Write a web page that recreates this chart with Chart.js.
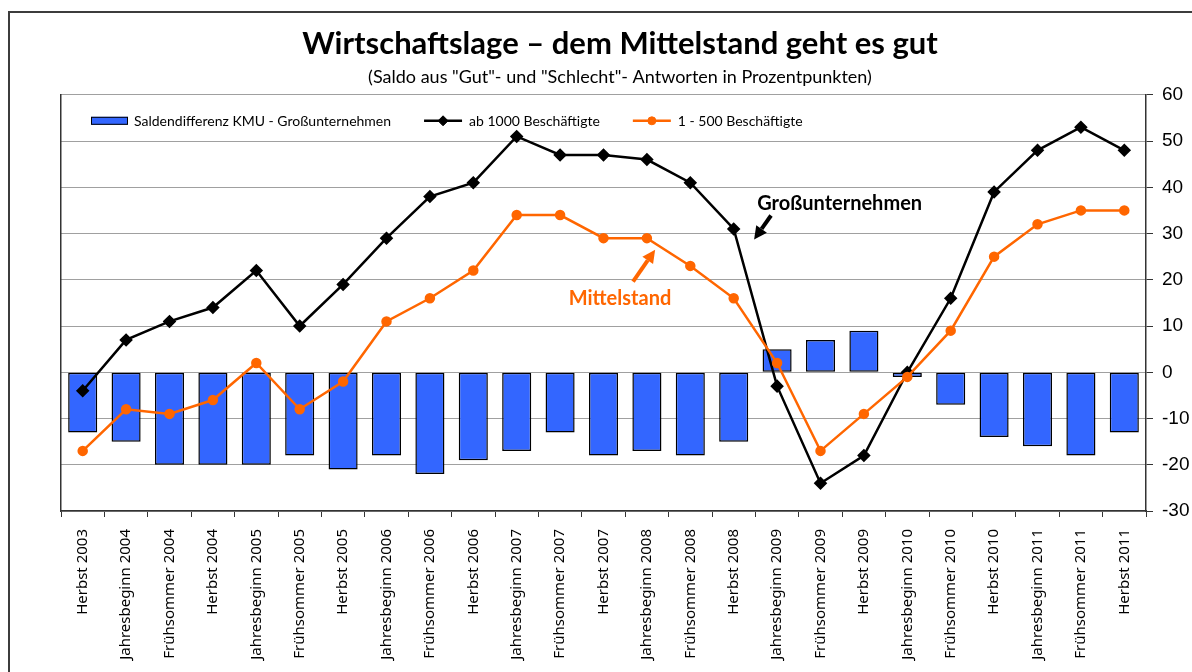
<!DOCTYPE html>
<html lang="de">
<head>
<meta charset="utf-8">
<title>Wirtschaftslage – dem Mittelstand geht es gut</title>
<script src="https://cdn.jsdelivr.net/npm/chart.js@4.4.1/dist/chart.umd.min.js"></script>
<style>
  html, body { margin: 0; padding: 0; background: #fff; overflow: hidden; width: 1192px; height: 672px; }
  #frame { position: absolute; left: 8px; top: 11px; width: 1400px; height: 900px; border: 2px solid #3c3c3c; }
  #chart { position: absolute; left: 0; top: 0; }
</style>
</head>
<body>
<div id="frame"></div>
<canvas id="chart" width="1240" height="720"></canvas>
<script>
// categories (survey waves)
const categories = [
  "Herbst 2003", "Jahresbeginn 2004", "Frühsommer 2004", "Herbst 2004",
  "Jahresbeginn 2005", "Frühsommer 2005", "Herbst 2005",
  "Jahresbeginn 2006", "Frühsommer 2006", "Herbst 2006",
  "Jahresbeginn 2007", "Frühsommer 2007", "Herbst 2007",
  "Jahresbeginn 2008", "Frühsommer 2008", "Herbst 2008",
  "Jahresbeginn 2009", "Frühsommer 2009", "Herbst 2009",
  "Jahresbeginn 2010", "Frühsommer 2010", "Herbst 2010",
  "Jahresbeginn 2011", "Frühsommer 2011", "Herbst 2011"
];

// series values (Saldo in Prozentpunkten)
const saldoDifferenz = [-13, -15, -20, -20, -20, -18, -21, -18, -22, -19, -17, -13, -18, -17, -18, -15, 5, 7, 9, -1, -7, -14, -16, -18, -13];
const ab1000 = [-4, 7, 11, 14, 22, 10, 19, 29, 38, 41, 51, 47, 47, 46, 41, 31, -3, -24, -18, 0, 16, 39, 48, 53, 48];
const bis500 = [-17, -8, -9, -6, 2, -8, -2, 11, 16, 22, 34, 34, 29, 29, 23, 16, 2, -17, -9, -1, 9, 25, 32, 35, 35];

// y axis
const yMin = -30;
const yMax = 60;
const yStep = 10;

const seriesNames = ["Saldendifferenz KMU - Großunternehmen", "ab 1000 Beschäftigte", "1 - 500 Beschäftigte"];

const BLUE = "#3366ff";
const ORANGE = "#ff6600";

// callouts, anchored in data space (category index, value)
const callouts = [
  { text: "Großunternehmen", color: "#000", at: [15.54, 36.5], arrow: [[15.86, 33.9], [15.47, 28.7]] },
  { text: "Mittelstand", color: ORANGE, at: [11.2, 16.0], arrow: [[12.68, 19.6], [13.19, 26.5]] }
];

// legend drawn inside the plot area, like the original
const insideLegend = {
  id: "insideLegend",
  afterDraw(chart) {
    const ctx = chart.ctx;
    const area = chart.chartArea;
    let x = area.left + 30;
    const y = area.top + 26;
    ctx.save();
    ctx.font = "14px Lato";
    ctx.textBaseline = "middle";
    ctx.textAlign = "left";
    chart.data.datasets.forEach((ds) => {
      if (ds.type === "bar") {
        ctx.fillStyle = ds.backgroundColor;
        ctx.fillRect(x, y - 4, 37, 8);
        ctx.strokeStyle = ds.borderColor;
        ctx.lineWidth = 1;
        ctx.strokeRect(x + 0.5, y - 3.5, 36, 7);
        x += 43;
      } else {
        ctx.strokeStyle = ds.borderColor;
        ctx.lineWidth = ds.borderWidth;
        ctx.beginPath();
        ctx.moveTo(x, y);
        ctx.lineTo(x + 38, y);
        ctx.stroke();
        ctx.fillStyle = ds.pointBackgroundColor;
        ctx.lineWidth = 1;
        Chart.helpers.drawPoint(ctx, { pointStyle: ds.pointStyle, radius: ds.pointRadius, borderWidth: 1, rotation: 0 }, x + 19, y);
        x += 45;
      }
      ctx.fillStyle = "#000";
      ctx.fillText(ds.label, x, y + 1);
      x += ctx.measureText(ds.label).width + 33;
    });
    ctx.restore();
  }
};

const calloutPlugin = {
  id: "callouts",
  afterDatasetsDraw(chart) {
    const ctx = chart.ctx;
    const xs = chart.scales.x;
    const ys = chart.scales.y;
    ctx.save();
    callouts.forEach((c) => {
      ctx.font = "bold 20px Lato";
      ctx.fillStyle = c.color;
      ctx.textAlign = "left";
      ctx.textBaseline = "middle";
      ctx.fillText(c.text, xs.getPixelForValue(c.at[0]), ys.getPixelForValue(c.at[1]));

      const x0 = xs.getPixelForValue(c.arrow[0][0]);
      const y0 = ys.getPixelForValue(c.arrow[0][1]);
      const x1 = xs.getPixelForValue(c.arrow[1][0]);
      const y1 = ys.getPixelForValue(c.arrow[1][1]);
      const ang = Math.atan2(y1 - y0, x1 - x0);
      const head = 13;
      const half = 6.5;
      const bx = x1 - head * Math.cos(ang);
      const by = y1 - head * Math.sin(ang);
      ctx.strokeStyle = c.color;
      ctx.lineWidth = 4;
      ctx.beginPath();
      ctx.moveTo(x0, y0);
      ctx.lineTo(bx, by);
      ctx.stroke();
      ctx.beginPath();
      ctx.moveTo(x1, y1);
      ctx.lineTo(bx + half * Math.sin(ang), by - half * Math.cos(ang));
      ctx.lineTo(bx - half * Math.sin(ang), by + half * Math.cos(ang));
      ctx.closePath();
      ctx.fill();
    });
    ctx.restore();
  }
};

new Chart(document.getElementById("chart"), {
  data: {
    labels: categories,
    datasets: [
      {
        type: "bar",
        label: seriesNames[0],
        data: saldoDifferenz,
        backgroundColor: BLUE,
        borderColor: "#000",
        borderWidth: 1.5,
        borderSkipped: false,
        barPercentage: 0.67,
        categoryPercentage: 1,
        order: 3
      },
      {
        type: "line",
        label: seriesNames[1],
        data: ab1000,
        borderColor: "#000",
        borderWidth: 2.5,
        pointStyle: "rectRot",
        pointRadius: 5,
        pointBackgroundColor: "#000",
        pointBorderColor: "#000",
        tension: 0,
        order: 2
      },
      {
        type: "line",
        label: seriesNames[2],
        data: bis500,
        borderColor: ORANGE,
        borderWidth: 2.5,
        pointStyle: "circle",
        pointRadius: 4,
        pointBackgroundColor: ORANGE,
        pointBorderColor: ORANGE,
        tension: 0,
        order: 1
      }
    ]
  },
  options: {
    responsive: false,
    animation: false,
    devicePixelRatio: 1,
    layout: { padding: 0 },
    plugins: {
      legend: { display: false },
      tooltip: { enabled: false },
      title: {
        display: true,
        text: "Wirtschaftslage – dem Mittelstand geht es gut",
        color: "#000",
        font: { family: "Lato", size: 31, weight: "bold" },
        padding: { top: 25, bottom: 0 }
      },
      subtitle: {
        display: true,
        text: '(Saldo aus "Gut"- und "Schlecht"- Antworten in Prozentpunkten)',
        color: "#000",
        font: { family: "Lato", size: 18 },
        padding: { top: 4, bottom: 7 }
      }
    },
    scales: {
      x: {
        grid: { display: true, drawOnChartArea: false, drawTicks: true, tickLength: 6, color: "#333", offset: true },
        border: { display: true, color: "#333", width: 1.5 },
        ticks: {
          autoSkip: false,
          maxRotation: 90,
          minRotation: 90,
          color: "#000",
          font: { family: "Noto Sans", size: 15 },
          padding: 12
        },
        afterFit(s) { s.height = 209; }
      },
      y: {
        position: "right",
        min: yMin,
        max: yMax,
        ticks: { stepSize: yStep, color: "#000", font: { family: "Liberation Sans", size: 19 }, padding: 9 },
        grid: { color: "#a0a0a0", lineWidth: 1, tickColor: "#333", tickLength: 7 },
        border: { display: true, color: "#333", width: 1.5 },
        afterFit(s) { s.width = 94; }
      },
      yLeft: {
        position: "left",
        display: true,
        min: yMin,
        max: yMax,
        ticks: { display: false },
        grid: { display: false },
        border: { display: true, color: "#333", width: 1.5 },
        afterFit(s) { s.width = 61; }
      }
    }
  },
  plugins: [insideLegend, calloutPlugin]
});
</script>
</body>
</html>
